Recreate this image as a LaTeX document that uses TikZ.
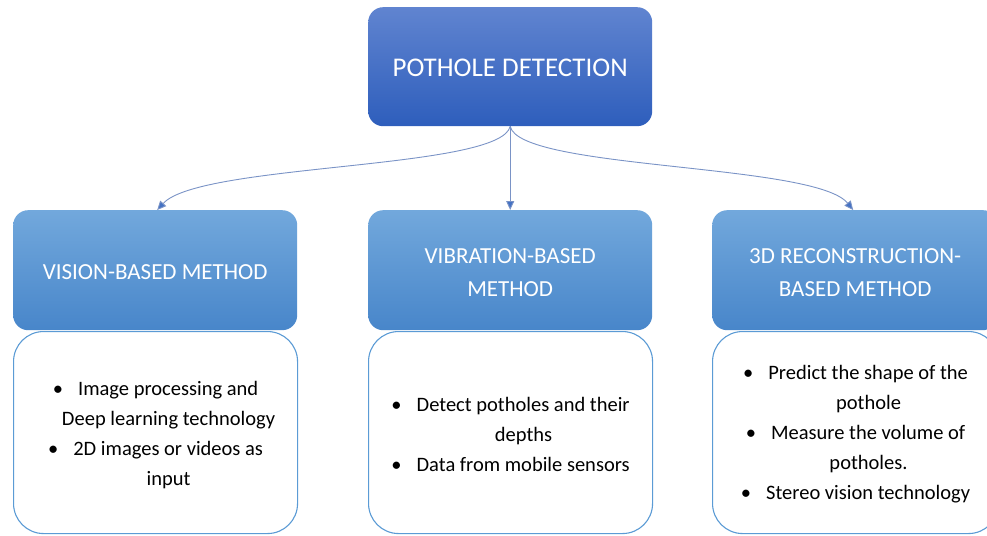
\documentclass[tikz,border=0pt]{standalone}
\usepackage{fontspec}
\setmainfont{Carlito}
\usetikzlibrary{arrows.meta}
\definecolor{topA}{HTML}{6084D0}
\definecolor{topB}{HTML}{2E5EBC}
\definecolor{hdrA}{HTML}{72A8DC}
\definecolor{hdrM}{HTML}{5A9AD8}
\definecolor{hdrB}{HTML}{4886CA}
\definecolor{bodyline}{HTML}{5B9BD5}
\definecolor{connline}{HTML}{7A93C6}
\definecolor{conntip}{HTML}{4472C4}
\newcommand\bul{\textbullet\hspace{15pt}}
\newcommand\cont{\hspace*{26pt}}
\begin{document}
\begin{tikzpicture}[x=1pt,y=-1pt,
  topbox/.style={rounded corners=15pt, top color=topA, bottom color=topB, draw=none,
    anchor=north west, minimum width=284, minimum height=119, inner sep=0pt},
  hdrbox/.style={rounded corners=15pt, top color=hdrA, middle color=hdrM, bottom color=hdrB, draw=none,
    anchor=north west, minimum height=120, inner sep=0pt},
  toptext/.style={text=white, font=\fontsize{27}{33}\selectfont, inner sep=0pt},
  hdrtext/.style={text=white, font=\fontsize{23}{33}\selectfont, align=center, inner sep=0pt},
  bodybox/.style={rounded corners=30pt, fill=white, draw=bodyline, line width=1.1pt,
    anchor=north west, minimum height=202, inner sep=0pt},
  bodytext/.style={font=\fontsize{20.5}{30}\selectfont, align=center, inner sep=0pt},
  conn/.style={draw=connline, line width=0.9pt, -{Triangle[length=9pt,width=8pt,fill=conntip]}}]
\useasboundingbox (0,0) rectangle (987,535);
\clip (0,0) rectangle (987,535);
% body boxes
\node[bodybox, minimum width=284] (b1) at (13,331) {};
\node[bodybox, minimum width=284] (b2) at (368,331) {};
\node[bodybox, minimum width=286] (b3) at (712,331) {};
% headers
\node[hdrbox, minimum width=284] (h1) at (13,210) {};
\node[hdrbox, minimum width=284] (h2) at (368,210) {};
\node[hdrbox, minimum width=286] (h3) at (712,210) {};
\node[hdrtext] (l1) at ([yshift=-2]h1.center) {VISION-BASED METHOD};
\node[hdrtext] (l2) at ([yshift=-2]h2.center) {VIBRATION-BASED\\METHOD};
\node[hdrtext] (l3) at ([yshift=-2]h3.center) {3D RECONSTRUCTION-\\BASED METHOD};
% top
\node[topbox] (top) at (368,7) {};
\node[toptext] (lt) at ([yshift=-1]top.center) {POTHOLE DETECTION};
% body texts
\node[bodytext] (t1) at ([yshift=-2]b1.center) {\bul Image processing and\\\cont Deep learning technology\\\bul 2D images or videos as\\\cont input};
\node[bodytext] (t2) at ([yshift=-2]b2.center) {\bul Detect potholes and their\\\cont depths\\\bul Data from mobile sensors};
\node[bodytext] (t3) at ([yshift=-2]b3.center) {\bul Predict the shape of the\\\cont pothole\\\bul Measure the volume of\\\cont potholes.\\\bul Stereo vision technology};
% connectors
\draw[conn] (top.south) .. controls (500,170) and (200,163) .. ([xshift=2]h1.north);
\draw[conn] (top.south) -- (h2.north);
\draw[conn] (top.south) .. controls (520,170) and (815,163) .. ([xshift=-2]h3.north);
\end{tikzpicture}
\end{document}
